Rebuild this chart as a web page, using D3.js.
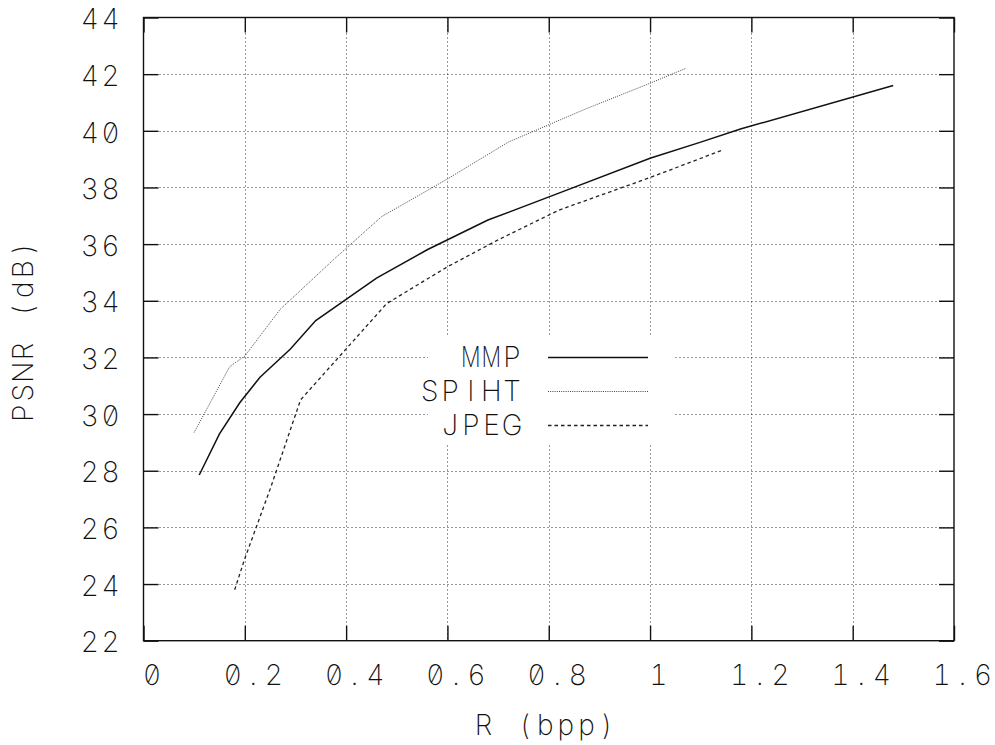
<!DOCTYPE html>
<html>
<head>
<meta charset="utf-8">
<script src="https://cdn.jsdelivr.net/npm/d3@7/dist/d3.min.js"></script>
<style>
  html, body { margin: 0; padding: 0; background: #fff; }
  svg text {
    font-family: Inter, "DejaVu Sans Mono", monospace;
    font-weight: 200;
    font-feature-settings: "zero" 1, "tnum" 1;
    fill: #111;
  }
</style>
</head>
<body>
<svg id="chart" width="995" height="745"></svg>
<script>
// Rate–distortion curves: PSNR versus bit rate for three coders
const xTicks = [0, 0.2, 0.4, 0.6, 0.8, 1, 1.2, 1.4, 1.6];
const yTicks = [22, 24, 26, 28, 30, 32, 34, 36, 38, 40, 42, 44];

const mmpRate  = [0.11, 0.15, 0.19, 0.23, 0.29, 0.34, 0.46, 0.56, 0.68, 0.82, 1.0, 1.1, 1.18, 1.48];
const mmpPsnr  = [27.85, 29.3, 30.4, 31.3, 32.3, 33.3, 34.8, 35.8, 36.85, 37.8, 39.03, 39.6, 40.07, 41.6];

const spihtRate = [0.10, 0.17, 0.20, 0.27, 0.375, 0.47, 0.60, 0.72, 0.87, 1.0, 1.07];
const spihtPsnr = [29.35, 31.67, 32.05, 33.7, 35.45, 36.97, 38.3, 39.6, 40.75, 41.68, 42.2];

const jpegRate = [0.18, 0.20, 0.25, 0.31, 0.40, 0.48, 0.60, 0.70, 0.82, 1.0, 1.14];
const jpegPsnr = [23.8, 24.9, 27.35, 30.5, 32.3, 33.9, 35.2, 36.15, 37.2, 38.35, 39.3];

const seriesNames = ["MMP", "SPIHT", "JPEG"];

const svg = d3.select("#chart");
const plotL = 143.5, plotR = 954, plotT = 17.5, plotB = 640.7;
const FONT = 28;
const CELL = 20.6;   // fixed character pitch, terminal style
const WIDE = "MW";   // glyphs narrowed to fit one cell

const x = d3.scaleLinear().domain([0, 1.6]).range([plotL, plotR]);
const y = d3.scaleLinear().domain([22, 44]).range([plotB, plotT]);

// Write a string with every character in its own fixed-width cell (tspans).
// anchor: "middle" centres the string on cx, "end" puts the last cell centre at cx.
function cellStart(str, cx, anchor) {
  const n = str.length;
  return anchor === "end" ? cx - (n - 1) * CELL : cx - (n - 1) / 2 * CELL;
}
function monoText(sel, str, cx, anchor) {
  const first = cellStart(str, cx, anchor);
  sel.text(null).attr("x", null).attr("text-anchor", "middle")
    .attr("font-size", FONT).attr("xml:space", "preserve");
  Array.from(str).forEach((ch, i) => {
    sel.append("tspan").attr("x", (first + i * CELL).toFixed(1)).text(ch);
  });
  return sel;
}
// Same cell layout, one text per character so wide glyphs can be narrowed.
function monoGroup(parent, str, cx, cy, anchor) {
  const first = cellStart(str, cx, anchor);
  const g = parent.append("g");
  Array.from(str).forEach((ch, i) => {
    const sx = WIDE.includes(ch) ? 0.78 : 1;
    g.append("text")
      .attr("transform", `translate(${(first + i * CELL).toFixed(1)},${cy}) scale(${sx},1)`)
      .attr("text-anchor", "middle").attr("font-size", FONT).attr("dy", "0.36em")
      .text(ch);
  });
  return g;
}

// dotted grid
const grid = svg.append("g").attr("stroke", "#333").attr("stroke-width", 1)
  .attr("stroke-dasharray", "1,3");
grid.selectAll("line.v").data(xTicks.slice(1, -1)).join("line")
  .attr("x1", d => Math.round(x(d)) + 0.5).attr("x2", d => Math.round(x(d)) + 0.5)
  .attr("y1", plotT).attr("y2", plotB);
grid.selectAll("line.h").data(yTicks.slice(1, -1)).join("line")
  .attr("y1", d => Math.round(y(d)) + 0.5).attr("y2", d => Math.round(y(d)) + 0.5)
  .attr("x1", plotL).attr("x2", plotR);

// opaque key area
svg.append("rect").attr("x", 428).attr("y", 336).attr("width", 246).attr("height", 108)
  .attr("fill", "#fff");

// axes: ticks on all four sides, pointing inward
const tickLen = 15;
const xBottom = d3.axisBottom(x).tickValues(xTicks).tickSizeInner(-tickLen).tickSizeOuter(0)
  .tickFormat(d => d3.format("~g")(d));
const xTop = d3.axisTop(x).tickValues(xTicks).tickSizeInner(-tickLen).tickSizeOuter(0).tickFormat("");
const yLeft = d3.axisLeft(y).tickValues(yTicks).tickSizeInner(-tickLen).tickSizeOuter(0)
  .tickFormat(d3.format("d"));
const yRight = d3.axisRight(y).tickValues(yTicks).tickSizeInner(-tickLen).tickSizeOuter(0).tickFormat("");

function styleAxis(g) {
  g.select(".domain").remove();
  g.selectAll(".tick line").attr("stroke", "#111").attr("stroke-width", 1.4);
  g.selectAll(".tick text").attr("fill", "#111").attr("font-family", null);
}

svg.append("g").attr("transform", `translate(0,${plotB})`).call(xBottom).call(styleAxis)
  .call(g => g.selectAll(".tick text").each(function () {
    const t = d3.select(this);
    monoText(t, t.text(), 8, "middle").attr("y", 34).attr("dy", "0.36em");
  }));
svg.append("g").attr("transform", `translate(0,${plotT})`).call(xTop).call(styleAxis);
svg.append("g").attr("transform", `translate(${plotL},0)`).call(yLeft).call(styleAxis)
  .call(g => g.selectAll(".tick text").each(function () {
    const t = d3.select(this);
    monoText(t, t.text(), -33, "end").attr("dy", "0.40em");
  }));
svg.append("g").attr("transform", `translate(${plotR},0)`).call(yRight).call(styleAxis);

// frame
svg.append("rect").attr("x", plotL).attr("y", plotT)
  .attr("width", plotR - plotL).attr("height", plotB - plotT)
  .attr("fill", "none").attr("stroke", "#111").attr("stroke-width", 1.4);

// curves
const styles = {
  MMP:   { stroke: "#111", width: 1.5, dash: null },
  SPIHT: { stroke: "#444", width: 1.0, dash: "1,1.2" },
  JPEG:  { stroke: "#222", width: 1.3, dash: "3.5,3" }
};
const series = [
  { name: "MMP",   xs: mmpRate,   ys: mmpPsnr },
  { name: "SPIHT", xs: spihtRate, ys: spihtPsnr },
  { name: "JPEG",  xs: jpegRate,  ys: jpegPsnr }
];
const line = d3.line().x(d => x(d[0])).y(d => y(d[1]));
series.forEach(s => {
  const st = styles[s.name];
  svg.append("path")
    .datum(d3.zip(s.xs, s.ys))
    .attr("d", line)
    .attr("fill", "none")
    .attr("stroke", st.stroke)
    .attr("stroke-width", st.width)
    .attr("stroke-dasharray", st.dash);
});

// key
const keyY = [357, 391, 425];
seriesNames.forEach((name, i) => {
  const st = styles[name];
  monoGroup(svg, name, 512, keyY[i], "end");
  svg.append("line").attr("x1", 548).attr("x2", 648)
    .attr("y1", keyY[i] + 0.5).attr("y2", keyY[i] + 0.5)
    .attr("stroke", st.stroke).attr("stroke-width", st.width)
    .attr("stroke-dasharray", st.dash);
});

// axis titles
monoText(svg.append("text"), "R (bpp)", 545.3, "middle").attr("y", 735);
monoText(svg.append("text").attr("transform", "translate(33,331) rotate(-90)"),
  "PSNR (dB)", 0, "middle").attr("y", 0);
</script>
</body>
</html>
